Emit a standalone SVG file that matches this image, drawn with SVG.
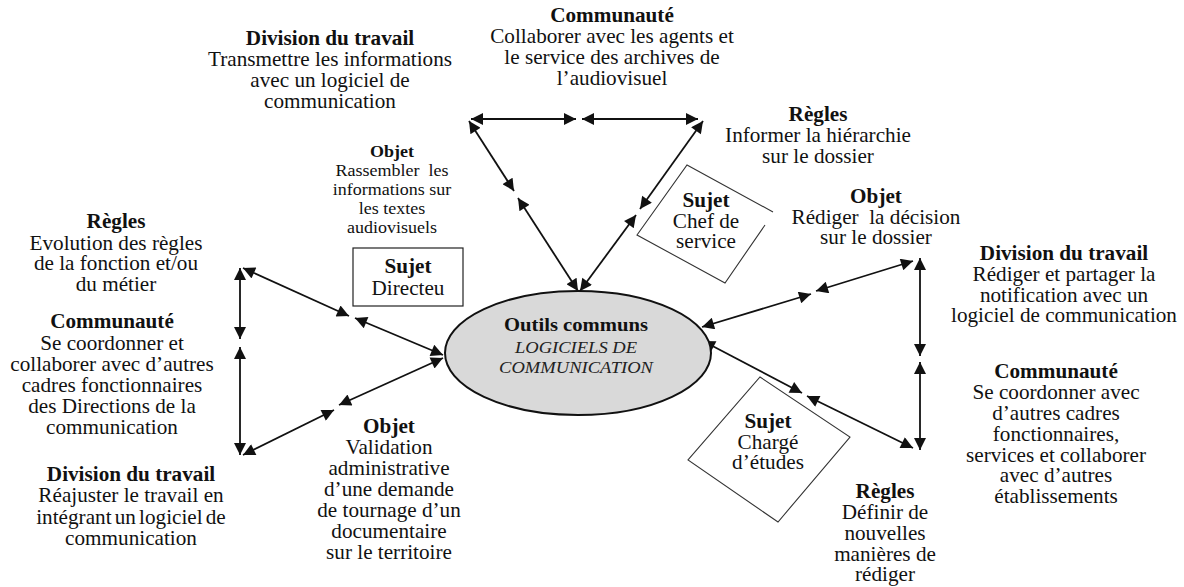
<svg xmlns="http://www.w3.org/2000/svg" width="1184" height="587" viewBox="0 0 1184 587">
<defs>
<style>
text { font-family: "Liberation Serif", "Times New Roman", serif; font-size: 20px; fill: #111; text-anchor: middle; }
.b { font-weight: bold; }
.sm { font-size: 17px; }
.it { font-style: italic; font-size: 17.5px; fill: #222; }
.box { fill: #fff; stroke: #222; stroke-width: 1.2; }
.conn line { stroke: #111; stroke-width: 1.8; marker-start: url(#ah); marker-end: url(#ah); }
</style>
<marker id="ah" viewBox="0 0 10 10" refX="10" refY="5" markerWidth="14" markerHeight="12" markerUnits="userSpaceOnUse" orient="auto-start-reverse">
<path d="M0,0 L10,5 L0,10 z" fill="#111"/>
</marker>
</defs>
<rect width="1184" height="587" fill="#fff"/>

<g id="connectors" class="conn">
<!-- top triangle -->
<line x1="471" y1="119" x2="576" y2="119"/>
<line x1="582" y1="119" x2="698" y2="119"/>
<line x1="469" y1="121" x2="514" y2="191"/>
<line x1="578" y1="291" x2="518" y2="198"/>
<line x1="703" y1="121" x2="640" y2="209"/>
<line x1="580" y1="291" x2="636" y2="215"/>
<!-- left triangle -->
<line x1="240" y1="268" x2="240" y2="339"/>
<line x1="240" y1="455" x2="240" y2="347"/>
<line x1="243" y1="268" x2="349" y2="316"/>
<line x1="443" y1="355" x2="355" y2="318"/>
<line x1="443" y1="358" x2="339" y2="405"/>
<line x1="243" y1="455" x2="334" y2="410"/>
<!-- right triangle -->
<line x1="702" y1="327" x2="811" y2="294"/>
<line x1="913" y1="261" x2="816" y2="291"/>
<line x1="920" y1="258" x2="920" y2="356"/>
<line x1="920" y1="450" x2="920" y2="362"/>
<line x1="703" y1="341" x2="802" y2="393"/>
<line x1="913" y1="448" x2="807" y2="396"/>
</g>

<g id="outils">
<ellipse cx="578" cy="353" rx="133" ry="62" fill="#d9d9d9" stroke="#111" stroke-width="2"/>
<text transform="translate(576 0) scale(1.06 1)"><tspan x="0" y="331" class="b" style="font-size:19.5px">Outils communs</tspan><tspan x="0" y="353" class="it">LOGICIELS DE</tspan><tspan x="0" y="373" class="it">COMMUNICATION</tspan></text>
</g>

<g id="division-haut">
<text transform="translate(330 0) scale(1.06 1)"><tspan x="0" y="45" class="b">Division du travail</tspan><tspan x="0" y="66">Transmettre les informations</tspan><tspan x="0" y="87">avec un logiciel de</tspan><tspan x="0" y="108">communication</tspan></text>
</g>

<g id="communaute-haut">
<text transform="translate(612 0) scale(1.06 1)"><tspan x="0" y="22" class="b">Communauté</tspan><tspan x="0" y="43">Collaborer avec les agents et</tspan><tspan x="0" y="64">le service des archives de</tspan><tspan x="0" y="85">l’audiovisuel</tspan></text>
</g>

<g id="regles-haut">
<text transform="translate(818 0) scale(1.06 1)"><tspan x="0" y="121" class="b">Règles</tspan><tspan x="0" y="142">Informer la hiérarchie</tspan><tspan x="0" y="163">sur le dossier</tspan></text>
</g>

<g id="objet-droite">
<text transform="translate(876 0) scale(1.06 1)"><tspan x="0" y="203" class="b">Objet</tspan><tspan x="0" y="224" xml:space="preserve">Rédiger  la décision</tspan><tspan x="0" y="244">sur le dossier</tspan></text>
</g>

<g id="objet-haut">
<text class="sm" transform="translate(392 0) scale(1.06 1)"><tspan x="0" y="157" class="b">Objet</tspan><tspan x="0" y="176" xml:space="preserve">Rassembler  les</tspan><tspan x="0" y="195">informations sur</tspan><tspan x="0" y="214">les textes</tspan><tspan x="0" y="233">audiovisuels</tspan></text>
</g>

<g id="sujet-directeur">
<rect class="box" x="353" y="248" width="110" height="58"/>
<text transform="translate(408 0) scale(1.06 1)"><tspan x="0" y="273" class="b">Sujet</tspan><tspan x="0" y="295">Directeu</tspan></text>
</g>

<g id="sujet-chef">
<path d="M773,212 L687,165 L637,235 L725,283 L765,225" fill="none" stroke="#333" stroke-width="1.1"/>
<text transform="translate(706 0) scale(1.06 1)"><tspan x="0" y="207" class="b">Sujet</tspan><tspan x="0" y="228">Chef de</tspan><tspan x="0" y="248">service</tspan></text>
</g>

<g id="sujet-charge">
<polygon points="760,377 850,437 778,522 688,460" fill="none" stroke="#333" stroke-width="1.1"/>
<text transform="translate(768 0) scale(1.06 1)"><tspan x="0" y="428" class="b">Sujet</tspan><tspan x="0" y="449">Chargé</tspan><tspan x="0" y="469">d’études</tspan></text>
</g>

<g id="regles-gauche">
<text transform="translate(116 0) scale(1.06 1)"><tspan x="0" y="228" class="b">Règles</tspan><tspan x="0" y="250">Evolution des règles</tspan><tspan x="0" y="270">de la fonction et/ou</tspan><tspan x="0" y="291">du métier</tspan></text>
</g>

<g id="communaute-gauche">
<text transform="translate(112 0) scale(1.06 1)"><tspan x="0" y="328" class="b">Communauté</tspan><tspan x="0" y="350">Se coordonner et</tspan><tspan x="0" y="371">collaborer avec d’autres</tspan><tspan x="0" y="392">cadres fonctionnaires</tspan><tspan x="0" y="413">des Directions de la</tspan><tspan x="0" y="434">communication</tspan></text>
</g>

<g id="division-gauche">
<text transform="translate(131 0) scale(1.06 1)"><tspan x="0" y="481" class="b">Division du travail</tspan><tspan x="0" y="502">Réajuster le travail en</tspan><tspan x="0" y="524" word-spacing="-2">intégrant un logiciel de</tspan><tspan x="0" y="545">communication</tspan></text>
</g>

<g id="objet-bas">
<text transform="translate(389 0) scale(1.06 1)"><tspan x="0" y="433" class="b">Objet</tspan><tspan x="0" y="454">Validation</tspan><tspan x="0" y="475">administrative</tspan><tspan x="0" y="496">d’une demande</tspan><tspan x="0" y="517">de tournage d’un</tspan><tspan x="0" y="538">documentaire</tspan><tspan x="0" y="559">sur le territoire</tspan></text>
</g>

<g id="division-droite">
<text transform="translate(1064 0) scale(1.06 1)"><tspan x="0" y="260" class="b">Division du travail</tspan><tspan x="0" y="281">Rédiger et partager la</tspan><tspan x="0" y="302">notification avec un</tspan><tspan x="0" y="322">logiciel de communication</tspan></text>
</g>

<g id="communaute-droite">
<text transform="translate(1056 0) scale(1.06 1)"><tspan x="0" y="378" class="b">Communauté</tspan><tspan x="0" y="399">Se coordonner avec</tspan><tspan x="0" y="420">d’autres cadres</tspan><tspan x="0" y="441">fonctionnaires,</tspan><tspan x="0" y="462">services et collaborer</tspan><tspan x="0" y="482">avec d’autres</tspan><tspan x="0" y="503">établissements</tspan></text>
</g>

<g id="regles-bas">
<text transform="translate(885 0) scale(1.06 1)"><tspan x="0" y="498" class="b">Règles</tspan><tspan x="0" y="519">Définir de</tspan><tspan x="0" y="540">nouvelles</tspan><tspan x="0" y="561">manières de</tspan><tspan x="0" y="581">rédiger</tspan></text>
</g>
</svg>
